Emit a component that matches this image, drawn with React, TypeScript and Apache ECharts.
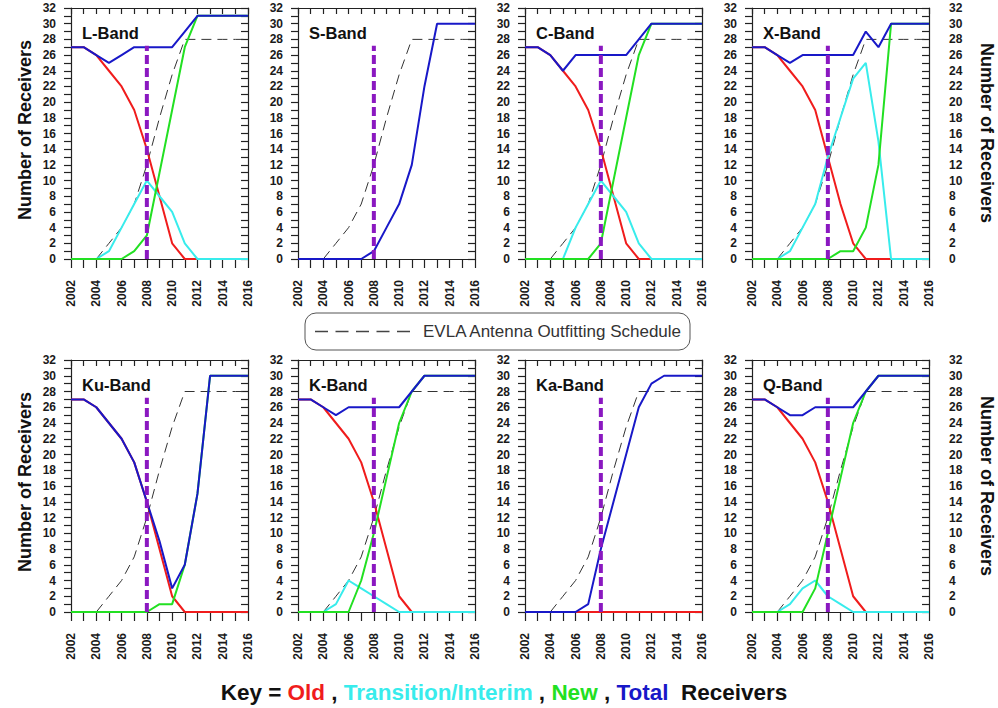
import { useEffect, useRef } from "react";
import * as echarts from "echarts";

// ---------- data ----------
const years = [2002, 2003, 2004, 2005, 2006, 2007, 2008, 2009, 2010, 2011, 2012, 2013, 2014, 2015, 2016];
const yTicks = [0, 2, 4, 6, 8, 10, 12, 14, 16, 18, 20, 22, 24, 26, 28, 30, 32];
const bandNames = ["L-Band", "S-Band", "C-Band", "X-Band", "Ku-Band", "K-Band", "Ka-Band", "Q-Band"];

// EVLA antenna outfitting schedule (same for all bands)
const schedule = [null, null, 0, 2, 4, 7, 12, 18, 23.5, 28, 28, 28, 28, 28, 28];
const markerYear = 2008;
const markerTop = 27.2;

// L-Band
const lOld = [27, 27, 26, 24, 22, 19, 14, 8, 2, 0, 0, 0, 0, 0, 0];
const lTrans = [0, 0, 0, 1, 4, 7, 10, 8, 6, 2, 0, 0, 0, 0, 0];
const lNew = [0, 0, 0, 0, 0, 1, 3, 11, 19, 27, 31, 31, 31, 31, 31];
const lTotal = [27, 27, 26, 25, 26, 27, 27, 27, 27, 29, 31, 31, 31, 31, 31];
// S-Band
const sTotal = [0, 0, 0, 0, 0, 0, 1, 4, 7, 12, 22, 30, 30, 30, 30];
// C-Band
const cOld = [27, 27, 26, 24, 22, 19, 14, 8, 2, 0, 0, 0, 0, 0, 0];
const cTrans = [0, 0, 0, 0, 4, 7, 10, 8, 6, 2, 0, 0, 0, 0, 0];
const cNew = [0, 0, 0, 0, 0, 0, 2, 10, 18, 26, 30, 30, 30, 30, 30];
const cTotal = [27, 27, 26, 24, 26, 26, 26, 26, 26, 28, 30, 30, 30, 30, 30];
// X-Band
const xOld = [27, 27, 26, 24, 22, 19, 13, 7, 2, 0, 0, 0, 0, 0, 0];
const xTrans = [0, 0, 0, 1, 4, 7, 13, 18, 23, 25, 15, 0, 0, 0, 0];
const xNew = [0, 0, 0, 0, 0, 0, 0, 1, 1, 4, 12, 30, 30, 30, 30];
const xTotal = [27, 27, 26, 25, 26, 26, 26, 26, 26, 29, 27, 30, 30, 30, 30];
// Ku-Band
const kuOld = [27, 27, 26, 24, 22, 19, 14, 8, 2, 0, 0, 0, 0, 0, 0];
const kuNew = [0, 0, 0, 0, 0, 0, 0, 1, 1, 6, 15, 30, 30, 30, 30];
const kuTotal = [27, 27, 26, 24, 22, 19, 14, 9, 3, 6, 15, 30, 30, 30, 30];
// K-Band
const kOld = [27, 27, 26, 24, 22, 19, 14, 8, 2, 0, 0, 0, 0, 0, 0];
const kTrans = [0, 0, 0, 1, 4, 3, 2, 1, 0, 0, 0, 0, 0, 0, 0];
const kNew = [0, 0, 0, 0, 0, 4, 10, 17, 24, 28, 30, 30, 30, 30, 30];
const kTotal = [27, 27, 26, 25, 26, 26, 26, 26, 26, 28, 30, 30, 30, 30, 30];
// Ka-Band
const kaOld = [0, 0, 0, 0, 0, 0, 0, 0, 0, 0, 0, 0, 0, 0, 0];
const kaTotal = [0, 0, 0, 0, 0, 1, 8, 14, 20, 26, 29, 30, 30, 30, 30];
// Q-Band
const qOld = [27, 27, 26, 24, 22, 19, 14, 8, 2, 0, 0, 0, 0, 0, 0];
const qTrans = [0, 0, 0, 1, 3, 4, 2, 1, 0, 0, 0, 0, 0, 0, 0];
const qNew = [0, 0, 0, 0, 0, 3, 10, 17, 24, 28, 30, 30, 30, 30, 30];
const qTotal = [27, 27, 26, 25, 25, 26, 26, 26, 26, 28, 30, 30, 30, 30, 30];

type Band = { old?: number[]; trans?: number[]; nw?: number[]; total?: number[] };
const bands: Band[] = [
  { old: lOld, trans: lTrans, nw: lNew, total: lTotal },
  { total: sTotal },
  { old: cOld, trans: cTrans, nw: cNew, total: cTotal },
  { old: xOld, trans: xTrans, nw: xNew, total: xTotal },
  { old: kuOld, nw: kuNew, total: kuTotal },
  { old: kOld, trans: kTrans, nw: kNew, total: kTotal },
  { old: kaOld, total: kaTotal },
  { old: qOld, trans: qTrans, nw: qNew, total: qTotal },
];

// ---------- styling / layout ----------
const FONT = "'Liberation Sans', Arial, sans-serif";
const C_OLD = "#f01c1c";
const C_TRANS = "#38ecec";
const C_NEW = "#22e022";
const C_TOTAL = "#1818c8";
const C_MARK = "#8a18c0";
const C_AXIS = "#222";
const gridLefts = [71, 298, 525, 752];
const rowTops = [8, 360];
const rowHeights = [251, 252];
const gridWidth = 177;

export default function App() {
  const ref = useRef<HTMLDivElement>(null);
  useEffect(() => {
    document.body.style.margin = "0";
    if (!ref.current) return;
    const chart = echarts.init(ref.current, null, { renderer: "svg" });

    const grids: any[] = [];
    const xAxes: any[] = [];
    const yAxes: any[] = [];
    const series: any[] = [];
    const graphics: any[] = [];
    const axisLineStyle = { color: C_AXIS, width: 1.2 };
    const labelStyle = { fontSize: 12, fontWeight: "bold", color: "#1a1a1a", fontFamily: FONT };

    bands.forEach((b, i) => {
      const row = i < 4 ? 0 : 1;
      const col = i % 4;
      const left = gridLefts[col];
      const top = rowTops[row];
      grids.push({
        left, top, width: gridWidth, height: rowHeights[row],
        containLabel: false, outerBoundsMode: "none", show: false,
      });
      xAxes.push({
        gridIndex: i, type: "value", min: years[0], max: years[years.length - 1], interval: 1,
        position: "bottom",
        axisLine: { show: true, onZero: false, lineStyle: axisLineStyle },
        axisTick: { show: true, inside: false, length: 9, lineStyle: axisLineStyle },
        axisLabel: {
          ...labelStyle, rotate: 90, margin: 21, showMinLabel: true, showMaxLabel: true,
          formatter: (v: number) => (years.indexOf(v) % 2 === 0 ? String(v) : ""),
        },
        splitLine: { show: false },
      });
      xAxes.push({
        gridIndex: i, type: "value", min: years[0], max: years[years.length - 1], interval: 1,
        position: "top",
        axisLine: { show: true, onZero: false, lineStyle: axisLineStyle },
        axisTick: { show: true, inside: true, length: 6, lineStyle: axisLineStyle },
        axisLabel: { show: false },
        splitLine: { show: false },
      });
      yAxes.push({
        gridIndex: i, type: "value", min: 0, max: 32, interval: 1, position: "left",
        axisLine: { show: true, onZero: false, lineStyle: axisLineStyle },
        axisTick: { show: true, inside: false, length: 7, lineStyle: axisLineStyle },
        axisLabel: {
          ...labelStyle, margin: 15, showMinLabel: true, showMaxLabel: true,
          formatter: (v: number) => (yTicks.indexOf(v) >= 0 ? String(v) : ""),
        },
        splitLine: { show: false },
      });
      yAxes.push({
        gridIndex: i, type: "value", min: 0, max: 32, interval: 1, position: "right",
        axisLine: { show: true, onZero: false, lineStyle: axisLineStyle },
        axisTick: { show: true, inside: true, length: 7, lineStyle: axisLineStyle },
        axisLabel: {
          show: col === 3, ...labelStyle, margin: 20, align: "left", showMinLabel: true, showMaxLabel: true,
          formatter: (v: number) => (yTicks.indexOf(v) >= 0 ? String(v) : ""),
        },
        splitLine: { show: false },
      });

      const xi = i * 2;
      const yi = i * 2;
      const toPts = (arr: (number | null)[]) =>
        years.map((y, k) => [y, arr[k]]).filter((p) => p[1] !== null && p[1] !== undefined);
      const addLine = (arr: (number | null)[] | undefined, color: string, width: number, type: any, z: number) => {
        if (!arr) return;
        series.push({
          type: "line", xAxisIndex: xi, yAxisIndex: yi, data: toPts(arr),
          symbol: "none", silent: true, z,
          lineStyle: { color, width, type },
        });
      };
      addLine(schedule, "#333", 1, [10, 6], 2);
      addLine(b.old, C_OLD, 2, "solid", 3);
      addLine(b.trans, C_TRANS, 2, "solid", 4);
      addLine(b.nw, C_NEW, 2, "solid", 5);
      addLine(b.total, C_TOTAL, 2, "solid", 6);
      series.push({
        type: "line", xAxisIndex: xi, yAxisIndex: yi,
        data: [[markerYear, 0], [markerYear, markerTop]],
        symbol: "none", silent: true, z: 7,
        lineStyle: { color: C_MARK, width: 4, type: [9, 4] },
      });

      graphics.push({
        type: "text", x: left + 11, y: top + 24.5, z: 20,
        style: {
          text: bandNames[i], fontSize: 16.5, fontWeight: "bold", fontFamily: FONT,
          fill: "#111", align: "left", verticalAlign: "middle",
        },
      });
    });

    // axis titles
    const yTitleStyle = { text: "Number of Receivers", fontSize: 18, fontWeight: "bold", fontFamily: FONT, fill: "#111", align: "center", verticalAlign: "middle" };
    graphics.push({ type: "text", x: 25, y: 130, rotation: Math.PI / 2, style: yTitleStyle });
    graphics.push({ type: "text", x: 25, y: 482, rotation: Math.PI / 2, style: yTitleStyle });
    graphics.push({ type: "text", x: 987, y: 133, rotation: -Math.PI / 2, style: yTitleStyle });
    graphics.push({ type: "text", x: 987, y: 486, rotation: -Math.PI / 2, style: yTitleStyle });

    // schedule legend box
    graphics.push({
      type: "rect", shape: { x: 305, y: 313, width: 385, height: 37, r: 11 },
      style: { fill: "none", stroke: "#555", lineWidth: 1 },
    });
    graphics.push({
      type: "line", shape: { x1: 315, y1: 331.5, x2: 410, y2: 331.5 },
      style: { stroke: "#444", lineWidth: 1.3, lineDash: [13, 7.5] },
    });
    graphics.push({
      type: "text", x: 423, y: 331.5,
      style: { text: "EVLA Antenna Outfitting Schedule", fontSize: 17, fontFamily: FONT, fill: "#333", align: "left", verticalAlign: "middle" },
    });

    // key
    graphics.push({
      type: "text", x: 504, y: 692,
      style: {
        text: "{k|Key = }{o|Old}{k| , }{t|Transition/Interim}{k| , }{n|New}{k| , }{b|Total}{k|  Receivers}",
        align: "center", verticalAlign: "middle",
        rich: {
          k: { fontSize: 22.5, fontWeight: "bold", fontFamily: FONT, fill: "#111" },
          o: { fontSize: 22.5, fontWeight: "bold", fontFamily: FONT, fill: C_OLD },
          t: { fontSize: 22.5, fontWeight: "bold", fontFamily: FONT, fill: C_TRANS },
          n: { fontSize: 22.5, fontWeight: "bold", fontFamily: FONT, fill: C_NEW },
          b: { fontSize: 22.5, fontWeight: "bold", fontFamily: FONT, fill: C_TOTAL },
        },
      },
    });

    chart.setOption({
      animation: false,
      backgroundColor: "#ffffff",
      grid: grids,
      xAxis: xAxes,
      yAxis: yAxes,
      series,
      graphic: graphics,
    });
    return () => chart.dispose();
  }, []);
  return <div ref={ref} style={{ width: 998, height: 708 }} />;
}
